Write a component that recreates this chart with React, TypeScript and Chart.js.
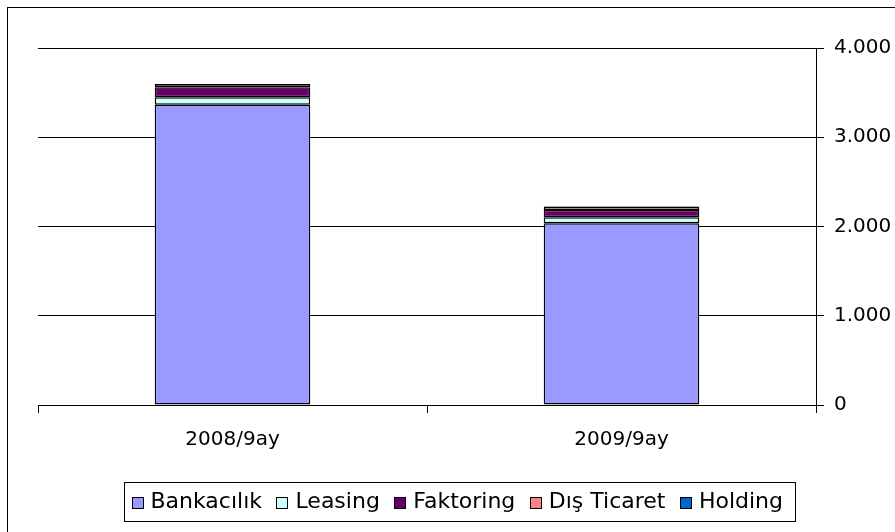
import React, { useEffect, useRef } from 'react';
import { Chart, registerables } from 'chart.js';

Chart.register(...registerables);

const categories = ['2008/9ay', '2009/9ay'];
const seriesNames = ['Bankacılık', 'Leasing', 'Faktoring', 'Dış Ticaret', 'Holding'];
const bankacilik = [3365, 2036];
const leasing = [83, 67];
const faktoring = [112, 82];
const disTicaret = [36, 40];
const holding = [1, 1];
const yTickValues = [0, 1000, 2000, 3000, 4000];
const yTickLabels = ['0', '1.000', '2.000', '3.000', '4.000'];
const colors = ['#9999FF', '#CCFFFF', '#660066', '#FF8080', '#0066CC'];

const FONT = '"DejaVu Sans", sans-serif';

const framePlugin = {
  id: 'frameAndLegend',
  afterDraw(chart: any) {
    const ctx = chart.ctx as CanvasRenderingContext2D;
    ctx.save();
    ctx.strokeStyle = '#000';
    ctx.lineWidth = 1;
    ctx.strokeRect(7.5, 7.5, 900, 540);
    const lx = 124.5, ly = 482.5, lw = 671, lh = 39;
    ctx.strokeRect(lx, ly, lw, lh);
    ctx.font = '22px ' + FONT;
    ctx.textBaseline = 'middle';
    ctx.textAlign = 'left';
    const box = 12;
    const gapBT = 9;
    const datasets = chart.data.datasets;
    const widths = datasets.map((d: any) => ctx.measureText(d.label).width);
    const startX = 131.5;
    const endX = 785;
    const itemsW = widths.reduce((a: number, w: number) => a + box + gapBT + w, 0);
    const gap = (endX - startX - itemsW) / (datasets.length - 1);
    let x = startX;
    const cy = 502;
    datasets.forEach((d: any, i: number) => {
      ctx.fillStyle = d.backgroundColor;
      ctx.fillRect(Math.round(x), cy - 5, box, box);
      ctx.strokeStyle = '#000';
      ctx.strokeRect(Math.round(x) + 0.5, cy - 5 + 0.5, box - 1, box - 1);
      ctx.fillStyle = '#000';
      ctx.fillText(d.label, x + box + gapBT - 2, cy);
      x += box + gapBT + widths[i] + gap;
    });
    ctx.restore();
  },
};

export default function App() {
  const ref = useRef<HTMLCanvasElement | null>(null);
  useEffect(() => {
    if (!ref.current) return;
    Chart.defaults.font.family = FONT;
    const values = [bankacilik, leasing, faktoring, disTicaret, holding];
    const chart = new Chart(ref.current, {
      type: 'bar',
      data: {
        labels: categories,
        datasets: seriesNames.map((name, i) => ({
          label: name,
          data: values[i],
          backgroundColor: colors[i],
          borderColor: '#000',
          borderWidth: 1.5,
          borderSkipped: false,
          barPercentage: 0.4,
          categoryPercentage: 1,
        })),
      },
      options: {
        responsive: false,
        animation: false,
        devicePixelRatio: 1,
        layout: { padding: { top: 48, left: 38, right: 0, bottom: 65 } },
        plugins: { legend: { display: false }, tooltip: { enabled: false } },
        scales: {
          x: {
            stacked: true,
            offset: true,
            grid: {
              offset: true,
              drawOnChartArea: false,
              drawTicks: true,
              tickLength: 8,
              color: '#000',
            },
            border: { display: true, color: '#000' },
            ticks: { color: '#000', font: { size: 20 }, padding: 15 },
          },
          y: {
            stacked: true,
            position: 'right',
            min: 0,
            max: 4000,
            afterBuildTicks(axis: any) {
              axis.ticks = yTickValues.map((v) => ({ value: v }));
            },
            afterFit(axis: any) {
              axis.width = 79;
            },
            grid: { color: '#000', tickLength: 8 },
            border: { display: true, color: '#000' },
            ticks: {
              color: '#000',
              font: { size: 20 },
              padding: 10,
              callback: (_v: any, i: number) => yTickLabels[i],
            },
          },
        },
      },
      plugins: [framePlugin],
    });
    return () => chart.destroy();
  }, []);
  return (
    <div style={{ position: 'absolute', left: 0, top: 0, width: 895, height: 532, background: '#fff' }}>
      <canvas ref={ref} width={895} height={532} />
    </div>
  );
}
